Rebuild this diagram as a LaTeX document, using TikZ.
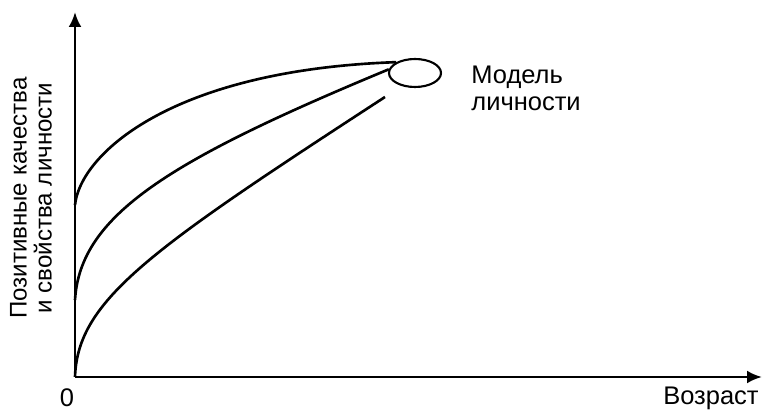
\documentclass[tikz,border=0pt]{standalone}
\usepackage{fontspec}
\setmainfont{Liberation Sans}
\usetikzlibrary{arrows.meta,positioning,shapes.geometric}

\begin{document}
\begin{tikzpicture}[>={Latex[length=0.3cm,width=0.26cm]},line width=1.6pt,
  lbl/.style={font=\fontsize{14.5}{15.4}\selectfont,inner sep=0pt},
  axislbl/.style={font=\fontsize{13.7}{14.2}\selectfont,inner sep=0pt},
  curve/.style={line width=1.5pt}]
  \useasboundingbox (0,0) rectangle (15.3,8.2);
  \coordinate (origin) at (1.5,0.66);
  \coordinate (ytop) at (1.5,7.96);
  \coordinate (xend) at (15.24,0.66);
  \draw[->] (origin) -- (ytop);
  \draw[->] (origin) -- (xend);
  \node[lbl,anchor=base] (zero) at (1.34,0.06) {0};
  \node[lbl,anchor=base east] (age) at (15.2,0.1) {Возраст};
  \node[axislbl,rotate=90,align=center] (quality) at (0.62,4.24) {Позитивные качества\\и свойства личности};
  \node[draw,ellipse,line width=1.2pt,minimum width=1.04cm,minimum height=0.56cm,inner sep=0pt] (model) at (8.3,6.74) {};
  \node[lbl,anchor=west,align=left] (modeltext) at (9.4,6.44) {Модель\\личности};
  \coordinate (high) at (1.5,4.1);
  \coordinate (mid) at (1.5,2.2);
  \coordinate (lowend) at (7.7,6.26);
  \draw[curve] (high) .. controls (1.6,5.1) and (3.4,6.8) .. (model.150);
  \draw[curve] (mid) .. controls (1.6,3.9) and (3.4,5.0) .. (model.172);
  \draw[curve] (origin) .. controls (1.55,2.2) and (3.0,3.2) .. (lowend);
\end{tikzpicture}
\end{document}
